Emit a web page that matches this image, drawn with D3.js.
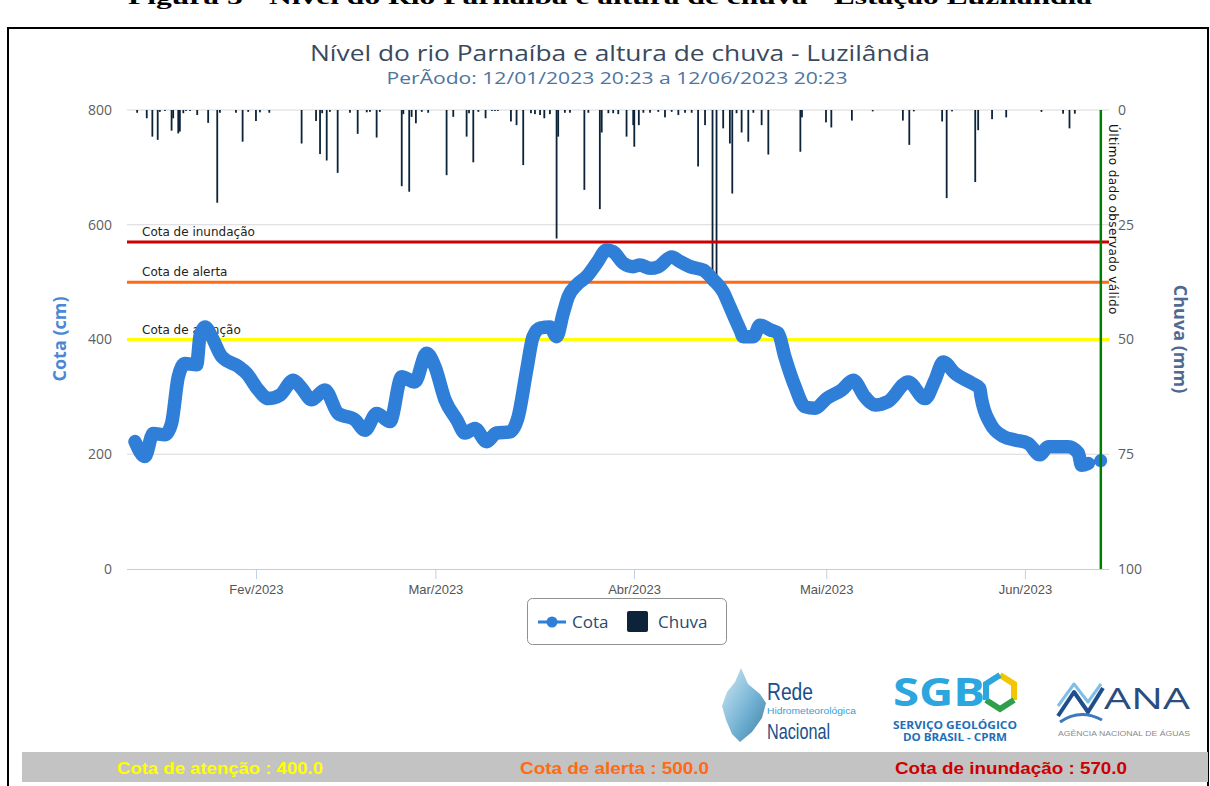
<!DOCTYPE html>
<html><head><meta charset="utf-8">
<script src="https://cdn.jsdelivr.net/npm/d3@7"></script>
<style>body{margin:0;background:#fff}svg{display:block}</style>
</head><body><svg id="c" width="1210" height="786"></svg>
<script>
// ---------------- DATA ----------------
const cotaDates = ["2023-01-13T03:00","2023-01-14T16:00","2023-01-15T23:00","2023-01-17T19:00","2023-01-18T20:00","2023-01-19T21:00","2023-01-20T22:00","2023-01-22T18:00","2023-01-23T06:00","2023-01-24T01:00","2023-01-25T02:00","2023-01-26T16:00","2023-01-29T06:00","2023-01-30T13:00","2023-02-01T09:00","2023-02-02T22:00","2023-02-04T18:00","2023-02-06T20:00","2023-02-08T03:00","2023-02-09T17:00","2023-02-11T18:00","2023-02-13T20:00","2023-02-16T11:00","2023-02-18T00:00","2023-02-19T20:00","2023-02-21T22:00","2023-02-23T18:00","2023-02-25T19:00","2023-02-27T15:00","2023-02-28T22:00","2023-03-02T12:00","2023-03-04T08:00","2023-03-05T15:00","2023-03-07T04:00","2023-03-09T00:00","2023-03-10T13:00","2023-03-12T15:00","2023-03-13T22:00","2023-03-15T06:00","2023-03-16T06:00","2023-03-17T08:00","2023-03-18T21:00","2023-03-19T22:00","2023-03-20T23:00","2023-03-21T18:00","2023-03-23T01:00","2023-03-24T15:00","2023-03-26T04:00","2023-03-27T18:00","2023-03-28T18:00","2023-03-30T08:00","2023-03-31T21:00","2023-04-01T22:00","2023-04-03T12:00","2023-04-04T19:00","2023-04-06T21:00","2023-04-08T04:00","2023-04-09T18:00","2023-04-11T19:00","2023-04-13T09:00","2023-04-14T22:00","2023-04-15T23:00","2023-04-17T13:00","2023-04-18T01:00","2023-04-19T15:00","2023-04-20T16:00","2023-04-22T05:00","2023-04-23T12:00","2023-04-24T13:00","2023-04-26T03:00","2023-04-27T16:00","2023-04-29T06:00","2023-05-01T01:00","2023-05-03T10:00","2023-05-05T05:00","2023-05-07T01:00","2023-05-08T14:00","2023-05-10T16:00","2023-05-13T19:00","2023-05-16T10:00","2023-05-17T23:00","2023-05-19T06:00","2023-05-21T02:00","2023-05-23T17:00","2023-05-24T23:00","2023-05-25T04:00","2023-05-26T14:00","2023-05-28T16:00","2023-05-30T11:00","2023-06-01T12:00","2023-06-03T08:00","2023-06-04T15:00","2023-06-07T18:00","2023-06-09T08:00","2023-06-09T20:00","2023-06-10T21:00","2023-06-12T20:00"];
const cotaValues = [222,196,236,234,254,335,358,356,405,422,405,370,353,341,312,297,303,329,315,295,312,271,260,242,271,257,335,326,376,353,295,260,237,245,222,237,239,265,347,405,420,422,405,446,475,495,510,533,556,553,533,527,530,524,527,544,536,527,521,504,483,457,417,405,405,425,417,411,370,318,283,280,297,312,329,300,286,292,326,297,329,361,341,324,315,300,254,231,225,219,199,213,213,202,181,184,189];

const rainDates = ["2023-01-13T11:00","2023-01-14T23:00","2023-01-15T20:00","2023-01-16T16:00","2023-01-17T00:00","2023-01-17T19:00","2023-01-18T20:00","2023-01-19T02:00","2023-01-19T21:00","2023-01-20T03:00","2023-01-20T16:00","2023-01-21T02:00","2023-01-21T17:00","2023-01-22T20:00","2023-01-24T13:00","2023-01-25T23:00","2023-01-26T09:00","2023-01-28T21:00","2023-01-29T22:00","2023-01-30T19:00","2023-02-01T00:00","2023-02-01T15:00","2023-02-03T02:00","2023-02-08T03:00","2023-02-10T09:00","2023-02-11T00:00","2023-02-11T08:00","2023-02-12T01:00","2023-02-12T13:00","2023-02-13T18:00","2023-02-15T16:00","2023-02-16T21:00","2023-02-18T07:00","2023-02-18T19:00","2023-02-19T20:00","2023-02-20T08:00","2023-02-23T18:00","2023-02-24T00:00","2023-02-24T22:00","2023-02-25T07:00","2023-02-25T23:00","2023-02-26T21:00","2023-02-27T21:00","2023-03-02T18:00","2023-03-03T19:00","2023-03-05T21:00","2023-03-06T06:00","2023-03-06T22:00","2023-03-07T17:00","2023-03-08T20:00","2023-03-09T20:00","2023-03-10T07:00","2023-03-10T18:00","2023-03-12T19:00","2023-03-13T16:00","2023-03-14T17:00","2023-03-15T22:00","2023-03-16T13:00","2023-03-17T08:00","2023-03-18T00:00","2023-03-18T21:00","2023-03-19T22:00","2023-03-20T04:00","2023-03-21T05:00","2023-03-22T00:00","2023-03-24T06:00","2023-03-24T21:00","2023-03-26T16:00","2023-03-26T23:00","2023-03-28T00:00","2023-03-28T18:00","2023-03-29T13:00","2023-03-30T20:00","2023-03-31T21:00","2023-04-01T01:00","2023-04-01T18:00","2023-04-02T11:00","2023-04-03T12:00","2023-04-04T19:00","2023-04-05T20:00","2023-04-06T21:00","2023-04-07T22:00","2023-04-08T23:00","2023-04-10T00:00","2023-04-11T00:00","2023-04-12T02:00","2023-04-13T06:00","2023-04-13T21:00","2023-04-14T22:00","2023-04-15T23:00","2023-04-16T08:00","2023-04-17T00:00","2023-04-17T19:00","2023-04-18T20:00","2023-04-19T15:00","2023-04-20T22:00","2023-04-21T23:00","2023-04-26T23:00","2023-04-27T05:00","2023-04-30T23:00","2023-05-01T19:00","2023-05-05T00:00","2023-05-08T06:00","2023-05-12T23:00","2023-05-13T23:00","2023-05-14T16:00","2023-05-19T02:00","2023-05-19T19:00","2023-05-20T15:00","2023-05-24T06:00","2023-05-24T17:00","2023-05-26T21:00","2023-05-29T02:00","2023-06-03T14:00","2023-06-06T23:00","2023-06-07T23:00","2023-06-08T19:00"];
const rainValues = [0.6,1.8,5.8,6.5,0.4,0.2,4.5,1.8,5.1,4.7,0.7,0.2,0.2,1.1,2.8,20.2,0.6,0.6,6.9,0.4,2.4,0.5,0.6,7.3,2.4,9.6,0.7,11.0,0.4,13.7,0.6,5.2,0.5,0.4,6.0,0.4,16.6,0.9,17.8,1.5,2.9,0.4,0.6,14.2,1.5,5.8,0.7,11.4,0.4,1.8,0.2,0.2,0.2,2.5,3.3,12.0,0.7,0.9,1.1,1.8,0.9,28.0,5.8,0.6,0.6,17.4,0.6,21.6,4.9,0.7,0.7,0.9,5.8,3.3,8.0,3.3,0.6,0.6,0.4,1.6,0.4,1.1,0.6,0.6,12.3,3.3,38.0,38.5,4.0,7.3,18.2,0.7,4.9,6.9,0.6,3.3,9.7,9.1,1.6,2.7,3.8,2.3,0.3,2.3,7.6,0.3,2.5,19.2,0.3,15.7,4.4,2.0,1.6,0.4,0.8,4.0,0.8];

const cotaTicks = [0,200,400,600,800];
const chuvaTicks = [0,25,50,75,100];
const monthTicks = ["2023-02-01T00:00","2023-03-01T00:00","2023-04-01T00:00","2023-05-01T00:00","2023-06-01T00:00"];
const monthLabels = ["Fev/2023","Mar/2023","Abr/2023","Mai/2023","Jun/2023"];
const thresholdValues = [400,500,570];
const thresholdNames = ["Cota de atenção","Cota de alerta","Cota de inundação"];
const thresholdColors = ["#ffff00","#ff6a13","#cc0000"];
const lastValidDate = "2023-06-12T20:23";

// ---------------- CHART ----------------
const svg = d3.select('#c');
const parse = d3.timeParse('%Y-%m-%dT%H:%M');
const P = {left:127, right:1109, top:110, bottom:569};
const x = d3.scaleTime().domain([parse('2023-01-11T21:00'), parse('2023-06-14T03:00')]).range([P.left, P.right]);
const y = d3.scaleLinear().domain([0,800]).range([P.bottom, P.top]);
const yR = d3.scaleLinear().domain([0,100]).range([P.top, P.bottom]);
const SANS = "'Open Sans', 'Liberation Sans', Arial, sans-serif";
const NARROW = "'Liberation Sans Narrow','Liberation Sans',Arial,sans-serif";

// caption (cut at top) and frame
svg.append('text').attr('x',128).attr('y',4).attr('textLength',964).attr('lengthAdjust','spacingAndGlyphs')
  .style('font-family',"'Liberation Serif','Times New Roman',serif").style('font-weight','bold').style('font-size','22px')
  .text('Figura 5 - Nível do Rio Parnaíba e altura de chuva - Estação Luzilândia');
svg.append('rect').attr('x',8).attr('y',28).attr('width',1200).attr('height',780).attr('fill','none').attr('stroke','#000').attr('stroke-width',2);

// titles
svg.append('text').attr('x',620).attr('y',61).attr('text-anchor','middle').attr('textLength',620).attr('lengthAdjust','spacingAndGlyphs')
  .style('font-family',SANS).style('font-size','22px').style('fill','#3a4a5e')
  .text('Nível do rio Parnaíba e altura de chuva - Luzilândia');
svg.append('text').attr('x',617).attr('y',84).attr('text-anchor','middle').attr('textLength',461).attr('lengthAdjust','spacingAndGlyphs')
  .style('font-family',SANS).style('font-size','16px').style('fill','#4d759e')
  .text('PerÃodo: 12/01/2023 20:23 a 12/06/2023 20:23');

// gridlines
svg.append('g').selectAll('line').data(cotaTicks.filter(d=>d>0)).join('line')
  .attr('x1',P.left).attr('x2',P.right).attr('y1',d=>y(d)).attr('y2',d=>y(d))
  .attr('stroke','#d8d8d8').attr('stroke-width',1);

// x axis
const xAxis = d3.axisBottom(x).tickValues(monthTicks.map(parse)).tickFormat((d,i)=>monthLabels[i]).tickSize(10).tickPadding(6);
const gx = svg.append('g').attr('transform',`translate(0,${P.bottom})`).call(xAxis);
gx.select('.domain').attr('stroke','#c0d0e0').attr('d',`M${P.left},0.5H${P.right}`);
gx.selectAll('.tick line').attr('stroke','#c0d0e0');
gx.selectAll('.tick text').style('font-family',"'Liberation Sans',Arial,sans-serif").style('font-size','13px').style('fill','#555');

// left axis
const gy = svg.append('g').attr('transform',`translate(${P.left},0)`).call(d3.axisLeft(y).tickValues(cotaTicks).tickSize(0).tickPadding(15));
gy.select('.domain').remove();
gy.selectAll('text').style('font-family',SANS).style('font-size','14px').style('fill','#606060');
// right axis
const gr = svg.append('g').attr('transform',`translate(${P.right},0)`).call(d3.axisRight(yR).tickValues(chuvaTicks).tickSize(0).tickPadding(9));
gr.select('.domain').remove();
gr.selectAll('text').style('font-family',SANS).style('font-size','14px').style('fill','#606060');

// axis titles
svg.append('text').attr('transform','translate(66,339) rotate(-90)').attr('text-anchor','middle')
  .style('font-family',SANS).style('font-size','18px').style('font-weight','bold').style('fill','#4a88d6').text('Cota (cm)');
svg.append('text').attr('transform','translate(1174,339) rotate(90)').attr('text-anchor','middle')
  .style('font-family',SANS).style('font-size','18px').style('font-weight','bold').style('fill','#4e6a92').text('Chuva (mm)');

// rain bars
const rain = rainDates.map((d,i)=>({t:parse(d), v:rainValues[i]}));
svg.append('g').selectAll('rect').data(rain).join('rect')
  .attr('x',d=>x(d.t)-0.9).attr('width',1.8)
  .attr('y',yR(0)).attr('height',d=>Math.max(0.8,yR(d.v)-yR(0)))
  .attr('fill','#0d233a');

// threshold lines
svg.append('g').selectAll('line').data(thresholdValues).join('line')
  .attr('x1',P.left).attr('x2',P.right).attr('y1',d=>y(d)).attr('y2',d=>y(d))
  .attr('stroke',(d,i)=>thresholdColors[i]).attr('stroke-width',3);
svg.append('g').selectAll('text').data(thresholdValues).join('text')
  .attr('x',142).attr('y',d=>y(d)-6)
  .style('font-family',"'DejaVu Sans',Verdana,sans-serif").style('font-size','12px').style('fill','#222')
  .text((d,i)=>thresholdNames[i]);

// cota line
const cota = cotaDates.map((d,i)=>({t:parse(d), v:cotaValues[i]}));
const line = d3.line().x(d=>x(d.t)).y(d=>y(d.v)).curve(d3.curveMonotoneX);
svg.append('path').datum(cota.slice(0,-1)).attr('d',line)
  .attr('fill','none').attr('stroke','#2f7ed8').attr('stroke-width',13.5)
  .attr('stroke-linejoin','round').attr('stroke-linecap','round');
svg.append('path').datum(cota.slice(-2)).attr('d',line)
  .attr('fill','none').attr('stroke','#2f7ed8').attr('stroke-width',5);
svg.append('circle').datum(cota[cota.length-1]).attr('cx',d=>x(d.t)).attr('cy',d=>y(d.v)).attr('r',6.5).attr('fill','#2f7ed8');

// last valid data plot line
const lx = x(parse(lastValidDate));
svg.append('line').attr('x1',lx).attr('x2',lx).attr('y1',P.top).attr('y2',P.bottom).attr('stroke','#008000').attr('stroke-width',2.5);
svg.append('text').attr('transform',`translate(${lx+8},124) rotate(90)`)
  .style('font-family',"'DejaVu Sans',Verdana,sans-serif").style('font-size','12px').style('fill','#111').style('letter-spacing','0.4px')
  .text('Último dado observado válido');

// legend
const lg = svg.append('g');
lg.append('rect').attr('x',527.5).attr('y',598.5).attr('width',199).attr('height',46).attr('rx',5)
  .attr('fill','#fff').attr('stroke','#909090');
lg.append('line').attr('x1',538).attr('x2',566).attr('y1',622).attr('y2',622).attr('stroke','#2f7ed8').attr('stroke-width',3);
lg.append('circle').attr('cx',552).attr('cy',622).attr('r',5.5).attr('fill','#2f7ed8');
lg.append('text').attr('x',572).attr('y',628).style('font-family',SANS).style('font-size','17px').style('fill','#274b6d').text('Cota');
lg.append('rect').attr('x',627).attr('y',611).attr('width',21).attr('height',21).attr('rx',2).attr('fill','#0d233a');
lg.append('text').attr('x',658).attr('y',628).style('font-family',SANS).style('font-size','17px').style('fill','#274b6d').text('Chuva');

// logos
const defs = svg.append('defs');
const gr1 = defs.append('linearGradient').attr('id','rg').attr('x1','0').attr('y1','0').attr('x2','1').attr('y2','1');
gr1.append('stop').attr('offset','0').attr('stop-color','#cfe8f3');
gr1.append('stop').attr('offset','0.6').attr('stop-color','#5ea6cc');
gr1.append('stop').attr('offset','1').attr('stop-color','#2c6f98');
svg.append('path').attr('d','M741,668 L748,684 L760,694 L766,703 L762,718 L752,732 L740,742 L732,734 L726,720 L722,706 L727,692 L735,682 Z').attr('fill','url(#rg)').attr('opacity',0.9);
svg.append('text').attr('x',767).attr('y',700).attr('textLength',46).attr('lengthAdjust','spacingAndGlyphs').style('font-family',NARROW).style('font-size','23px').style('fill','#1b4f8a').text('Rede');
svg.append('text').attr('x',767).attr('y',714).attr('textLength',89).attr('lengthAdjust','spacingAndGlyphs').style('font-family',NARROW).style('font-size','9px').style('fill','#38a0d8').text('Hidrometeorológica');
svg.append('text').attr('x',767).attr('y',739).attr('textLength',63).attr('lengthAdjust','spacingAndGlyphs').style('font-family',NARROW).style('font-size','22px').style('fill','#1b4f8a').text('Nacional');

svg.append('text').attr('x',893).attr('y',706).attr('textLength',92).attr('lengthAdjust','spacingAndGlyphs').style('font-family',SANS).style('font-weight','bold').style('font-size','40px').style('fill','#2ba6de').text('SGB');
svg.append('polyline').attr('points','1000,675 1014,684 1014,700').attr('fill','none').attr('stroke','#f2c600').attr('stroke-width',6);
svg.append('polyline').attr('points','1014,700 1000,709 986,700').attr('fill','none').attr('stroke','#2e9f4a').attr('stroke-width',6);
svg.append('polyline').attr('points','986,700 986,684 1000,675').attr('fill','none').attr('stroke','#2ba6de').attr('stroke-width',6);
svg.append('text').attr('x',893).attr('y',729).attr('textLength',124).attr('lengthAdjust','spacingAndGlyphs').style('font-family',SANS).style('font-weight','bold').style('font-size','10px').style('fill','#1d6fb8').text('SERVIÇO GEOLÓGICO');
svg.append('text').attr('x',903).attr('y',741).attr('textLength',104).attr('lengthAdjust','spacingAndGlyphs').style('font-family',SANS).style('font-weight','bold').style('font-size','10px').style('fill','#1d6fb8').text('DO BRASIL - CPRM');

svg.append('path').attr('d','M1058,716 L1074,692 L1088,712 L1103,688').attr('fill','none').attr('stroke','#1f4e8c').attr('stroke-width',4).attr('stroke-linejoin','round');
svg.append('path').attr('d','M1058,706 L1074,684 L1088,702 L1101,684').attr('fill','none').attr('stroke','#7fbfe6').attr('stroke-width',3).attr('stroke-linejoin','round');
svg.append('path').attr('d','M1060,722 Q1080,708 1102,720').attr('fill','none').attr('stroke','#3a78c0').attr('stroke-width',3);
svg.append('text').attr('x',1104).attr('y',709).attr('textLength',86).attr('lengthAdjust','spacingAndGlyphs').style('font-family',SANS).style('font-size','30px').style('fill','#2a4d7f').text('ANA');
svg.append('text').attr('x',1058).attr('y',736).attr('textLength',132).attr('lengthAdjust','spacingAndGlyphs').style('font-family',NARROW).style('font-size','8px').style('fill','#8a8a8a').text('AGÊNCIA NACIONAL DE ÁGUAS');

// footer
svg.append('rect').attr('x',22).attr('y',752).attr('width',1186).attr('height',30).attr('fill','#c3c3c3');
const footerX = [117,520,895], footerW = [206,189,232];
svg.append('g').selectAll('text').data(thresholdValues).join('text')
  .attr('x',(d,i)=>footerX[i]).attr('y',774).attr('textLength',(d,i)=>footerW[i]).attr('lengthAdjust','spacingAndGlyphs')
  .style('font-family',NARROW).style('font-weight','bold').style('font-size','17px').style('fill',(d,i)=>thresholdColors[i])
  .text((d,i)=>`${thresholdNames[i]} : ${d.toFixed(1)}`);
</script></body></html>
